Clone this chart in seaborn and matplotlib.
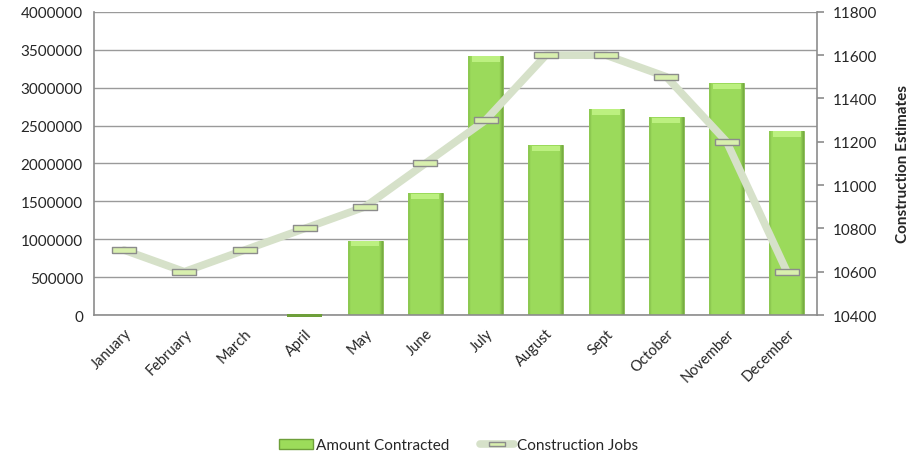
import numpy as np
import pandas as pd
import matplotlib
matplotlib.use("Agg")
import matplotlib.pyplot as plt
import seaborn as sns
from matplotlib.lines import Line2D
from matplotlib.patches import Patch
from matplotlib.colors import LinearSegmentedColormap

months = ["January", "February", "March", "April", "May", "June", "July",
          "August", "Sept", "October", "November", "December"]
amount_contracted = [0, 0, 0, 12000, 980000, 1610000, 3420000, 2240000,
                     2720000, 2610000, 3060000, 2430000]
construction_jobs = [10700, 10600, 10700, 10800, 10900, 11100, 11300, 11600,
                     11600, 11500, 11200, 10600]
left_ticks = list(range(0, 4000001, 500000))
right_ticks = list(range(10400, 11801, 200))

sns.set_theme(style="white")
plt.rcParams["font.family"] = ["Lato", "DejaVu Sans"]

df = pd.DataFrame({"month": months, "amount": amount_contracted,
                   "jobs": construction_jobs})

fig = plt.figure(figsize=(9.17, 4.6), dpi=100)
ax = fig.add_axes([0.1025, 0.313, 0.7885, 0.659])

for t in left_ticks:
    ax.axhline(t, color="#9a9a9a", lw=1.0, zorder=0)

sns.barplot(data=df, x="month", y="amount", ax=ax, color="#9cdc5a",
            width=0.58, edgecolor="#86b850", linewidth=0.6, saturation=1,
            zorder=2)

# subtle horizontal shading on bars (flat face, darker right edge)
xs = np.linspace(0, 1, 60)
prof = np.full_like(xs, 0.93)
prof[xs < 0.06] = 0.72
prof[xs > 0.9] = 0.93 - (xs[xs > 0.9] - 0.9) / 0.1 * 0.6
grad = prof[None, :]
cmap = LinearSegmentedColormap.from_list("g", ["#5f8f32", "#a0e05e"])
for p in ax.patches:
    h = p.get_height()
    if h <= 0:
        continue
    x0, w = p.get_x(), p.get_width()
    im = ax.imshow(grad, extent=[x0, x0 + w, 0, h], aspect="auto",
                   cmap=cmap, vmin=0, vmax=1, zorder=2.5,
                   interpolation="bilinear")
    im.set_clip_path(p)
    if h > 100000:
        ax.fill_between([x0 + w * 0.1, x0 + w * 0.9], h - 75000, h - 8000,
                        color="#bcf080", lw=0, zorder=2.6)
    else:
        ax.fill_between([x0, x0 + w], -30000, 15000,
                        color="#6e9f3a", lw=0, zorder=2.6, clip_on=False)

ax.set_xlim(-0.5, 11.5)
ax.set_ylim(0, 4000000)
ax.set_yticks(left_ticks)
ax.set_yticklabels([str(t) for t in left_ticks], fontsize=11)
ax.set_xlabel("")
ax.set_ylabel("")
ax.set_xticks(range(len(months)))
ax.set_xticklabels(months, rotation=45, ha="right", rotation_mode="anchor",
                   fontsize=10.5)
ax.tick_params(axis="x", length=0, pad=8)
ax.tick_params(axis="y", length=0, pad=8)
for s in ["top", "right"]:
    ax.spines[s].set_visible(False)
for s in ["left", "bottom"]:
    ax.spines[s].set_color("#8c8c8c")
    ax.spines[s].set_linewidth(1.2)

ax2 = ax.twinx()
marker_verts = [(-1, -0.28), (1, -0.28), (1, 0.28), (-1, 0.28), (-1, -0.28)]
sns.lineplot(x=np.arange(len(months)), y=construction_jobs, ax=ax2,
             color="#d6e1c9", lw=5.5, sort=False, zorder=3,
             marker=marker_verts, markersize=17, markerfacecolor="#d8efae",
             markeredgecolor="#8c8c8c", markeredgewidth=1.0)
ax2.set_ylim(10400, 11800)
ax2.set_yticks(right_ticks)
ax2.set_yticklabels([str(t) for t in right_ticks], fontsize=11)
ax2.tick_params(axis="y", length=5, width=1.2, color="#8c8c8c", pad=6)
ax2.set_ylabel("Construction Estimates", fontsize=11, fontweight="bold",
               labelpad=14)
for s in ["top", "left", "bottom"]:
    ax2.spines[s].set_visible(False)
ax2.spines["right"].set_color("#8c8c8c")
ax2.spines["right"].set_linewidth(1.2)
ax2.set_xlim(-0.5, 11.5)

handles = [
    Patch(facecolor="#9cdc5a", edgecolor="#6e9f3a", label="Amount Contracted"),
    Line2D([0], [0], color="#d6e1c9", lw=5.5, marker=marker_verts,
           markersize=12, markerfacecolor="#d8efae",
           markeredgecolor="#8c8c8c", label="Construction Jobs"),
]
fig.legend(handles=handles, loc="center", bbox_to_anchor=(0.5, 0.03),
           ncol=2, frameon=False, fontsize=11, handlelength=2.2,
           handletextpad=0.2, columnspacing=2.0)

fig.savefig("out.png", dpi=100)
